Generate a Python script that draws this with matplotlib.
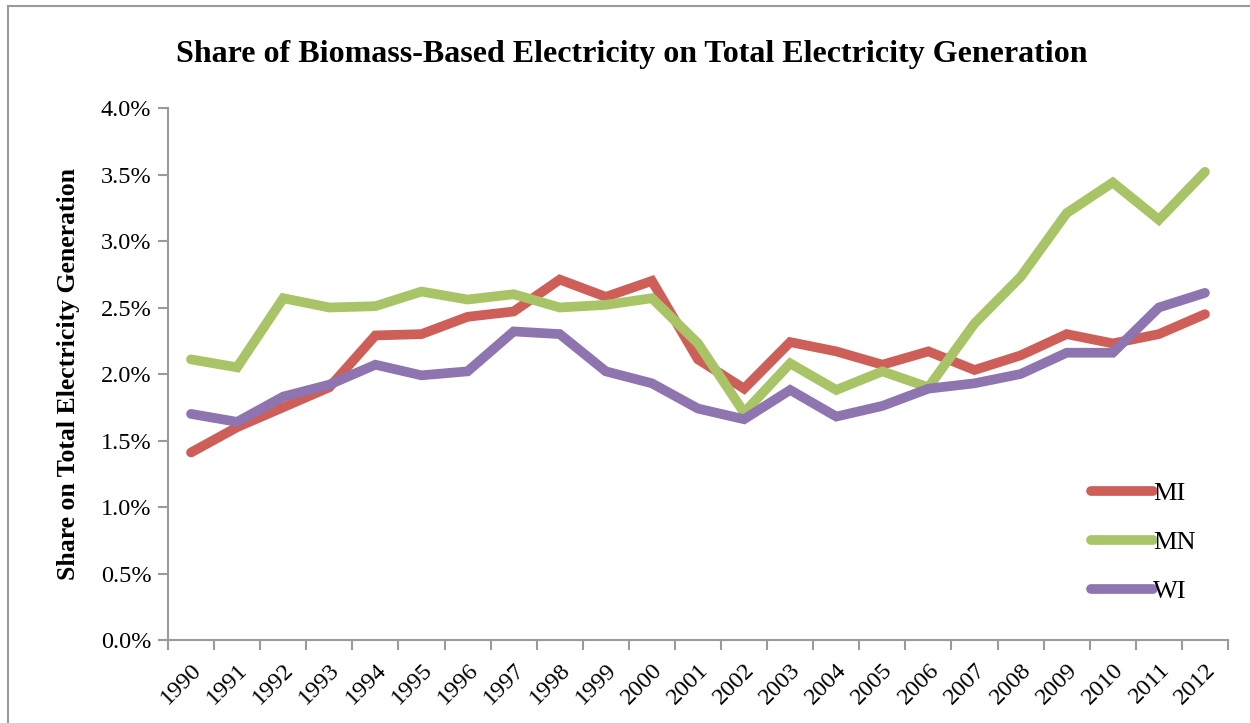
import matplotlib
matplotlib.use("Agg")
import matplotlib.pyplot as plt
from matplotlib.patches import Rectangle
from matplotlib.ticker import FuncFormatter, FixedLocator

years = [str(y) for y in range(1990, 2013)]

# share of biomass-based electricity, percent
mi = [1.41, 1.60, 1.75, 1.90, 2.29, 2.30, 2.43, 2.47, 2.71, 2.58, 2.70,
      2.11, 1.89, 2.24, 2.17, 2.07, 2.17, 2.03, 2.14, 2.30, 2.23, 2.30, 2.45]
mn = [2.11, 2.05, 2.57, 2.50, 2.51, 2.62, 2.56, 2.60, 2.50, 2.52, 2.57,
      2.23, 1.71, 2.08, 1.88, 2.02, 1.90, 2.38, 2.73, 3.21, 3.44, 3.16, 3.52]
wi = [1.70, 1.64, 1.83, 1.92, 2.07, 1.99, 2.02, 2.32, 2.30, 2.02, 1.93,
      1.74, 1.66, 1.88, 1.68, 1.76, 1.89, 1.93, 2.00, 2.16, 2.16, 2.50, 2.61]

series = [("MI", mi, "#CD5F58"), ("MN", mn, "#A8C467"), ("WI", wi, "#8E75B0")]

plt.rcParams['font.family'] = ['Liberation Serif', 'DejaVu Serif']

fig = plt.figure(figsize=(12.5, 7.23), dpi=100)
ax = fig.add_axes([0.1344, 0.1148, 0.848, 0.7358])

# outer chart frame
fig.patches.append(Rectangle((8 / 1250, -0.05), 1.2, 1 - 6 / 723 + 0.05,
                             transform=fig.transFigure, fill=False,
                             edgecolor="#9a9a9a", linewidth=1.5))

x = list(range(len(years)))
for name, vals, col in series:
    ax.plot(x, vals, color=col, linewidth=7, label=name,
            solid_capstyle='round', solid_joinstyle='miter')

ax.set_xlim(-0.5, len(years) - 0.5)
ax.set_ylim(0, 4.0)
ax.set_yticks([i * 0.5 for i in range(9)])
ax.yaxis.set_major_formatter(FuncFormatter(lambda v, p: f"{v:.1f}%"))
ax.set_xticks(x)
ax.set_xticklabels(years, rotation=45, ha='right', rotation_mode='anchor')
ax.xaxis.set_minor_locator(FixedLocator([i - 0.5 for i in range(len(years) + 1)]))
ax.tick_params(axis='x', which='major', length=0, labelsize=17.5, pad=14)
ax.tick_params(axis='x', which='minor', length=7, width=1.5, color="#9a9a9a")
ax.tick_params(axis='y', length=7, width=1.5, color="#9a9a9a", labelsize=17.5, pad=5)

for s in ['top', 'right']:
    ax.spines[s].set_visible(False)
for s in ['left', 'bottom']:
    ax.spines[s].set_color("#9a9a9a")
    ax.spines[s].set_linewidth(1.5)

ax.set_ylabel("Share on Total Electricity Generation", fontsize=18.5,
              fontweight='bold', labelpad=15)
fig.suptitle("Share of Biomass-Based Electricity on Total Electricity Generation",
             fontsize=23, fontweight='bold', x=0.505, y=0.945)

leg = ax.legend(loc='upper left', bbox_to_anchor=(0.861, 0.318), frameon=False,
                fontsize=19, handlelength=2.35, handletextpad=0.0,
                labelspacing=0.97, borderaxespad=0)

fig.savefig("out.png", dpi=100)
